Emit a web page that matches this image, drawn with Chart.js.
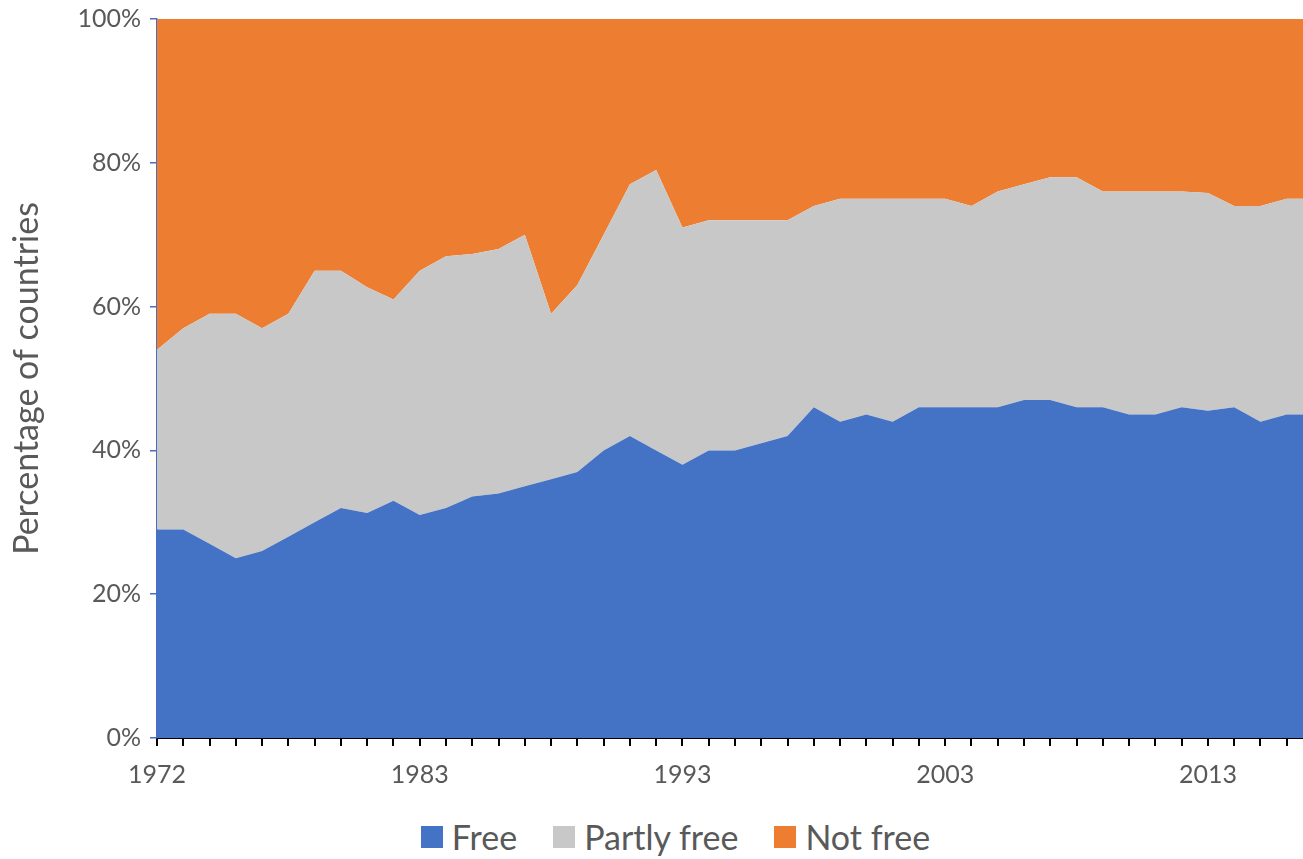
<!DOCTYPE html>
<html>
<head>
<meta charset="utf-8">
<title>Freedom status of countries</title>
<script src="https://cdn.jsdelivr.net/npm/chart.js@4.4.0/dist/chart.umd.min.js"></script>
<style>
  html, body { margin: 0; padding: 0; background: #fff; overflow: hidden; }
  #wrap { position: relative; width: 1303px; height: 859px; }
  #chart { position: absolute; left: 0; top: 0; }
  #legend {
    position: absolute; left: 24px; width: 1303px; top: 816px;
    display: flex; justify-content: center; align-items: center;
    font-family: Lato, sans-serif; font-size: 34px; color: #595959;
  }
  .item { display: flex; align-items: center; margin: 0 18px; }
  .swatch { width: 22px; height: 22px; margin-right: 9px; }
</style>
</head>
<body>
<div id="wrap">
  <canvas id="chart" width="1313" height="800"></canvas>
  <div id="legend"></div>
</div>
<script>
// Years (the survey skips 1982)
const years = [1972, 1973, 1974, 1975, 1976, 1977, 1978, 1979, 1980, 1981,
  1983, 1984, 1985, 1986, 1987, 1988, 1989, 1990, 1991, 1992,
  1993, 1994, 1995, 1996, 1997, 1998, 1999, 2000, 2001, 2002,
  2003, 2004, 2005, 2006, 2007, 2008, 2009, 2010, 2011, 2012,
  2013, 2014, 2015, 2016, 2017];

// Share of countries (%)
const free = [29, 29, 27, 25, 26, 28, 30, 32, 31.3, 33,
  31, 32, 33.6, 34, 35, 36, 37, 40, 42, 40,
  38, 40, 40, 41, 42, 46, 44, 45, 44, 46,
  46, 46, 46, 47, 47, 46, 46, 45, 45, 46,
  45.5, 46, 44, 45, 45];
const partlyFree = [25, 28, 32, 34, 31, 31, 35, 33, 31.4, 28,
  34, 35, 33.7, 34, 35, 23, 26, 30, 35, 39,
  33, 32, 32, 31, 30, 28, 31, 30, 31, 29,
  29, 28, 30, 30, 31, 32, 30, 31, 31, 30,
  30.3, 28, 30, 30, 30];
const notFree = [46, 43, 41, 41, 43, 41, 35, 35, 37.3, 39,
  35, 33, 32.7, 32, 30, 41, 37, 30, 23, 21,
  29, 28, 28, 28, 28, 26, 25, 25, 25, 25,
  25, 26, 24, 23, 22, 22, 24, 24, 24, 24,
  24.2, 26, 26, 25, 25];

// Only these years get a label on the x axis
const labeledYears = [1972, 1983, 1993, 2003, 2013];
const yTicks = [0, 20, 40, 60, 80, 100];

const seriesNames = ['Free', 'Partly free', 'Not free'];
const seriesColors = ['#4472C4', '#C8C8C8', '#ED7D31'];
const seriesData = [free, partlyFree, notFree];

const textColor = '#595959';
const font = 'Lato, sans-serif';

const datasets = seriesData.map((d, i) => ({
  label: seriesNames[i],
  data: d,
  backgroundColor: seriesColors[i],
  borderColor: seriesColors[i],
  borderWidth: 0,
  pointRadius: 0,
  fill: i === 0 ? 'origin' : '-1',
  tension: 0
}));

new Chart(document.getElementById('chart'), {
  type: 'line',
  data: { labels: years, datasets: datasets },
  options: {
    responsive: false,
    animation: false,
    layout: { padding: { top: 19, right: 0, bottom: 0, left: 0 } },
    plugins: { legend: { display: false }, tooltip: { enabled: false } },
    scales: {
      x: {
        offset: false,
        border: { color: '#000', width: 2 },
        grid: { drawOnChartArea: false, color: '#000', lineWidth: 2, tickLength: 8 },
        ticks: {
          autoSkip: false, maxRotation: 0, padding: 14,
          color: textColor, font: { family: font, size: 25 },
          callback: function (v, i) {
            const y = years[i];
            return labeledYears.includes(y) ? String(y) : '';
          }
        },
        afterFit: s => { s.height = 62; s.paddingLeft = 0; s.paddingRight = 0; }
      },
      y: {
        stacked: true,
        min: 0, max: 100,
        afterBuildTicks: s => { s.ticks = yTicks.map(v => ({ value: v })); },
        border: { color: '#4A6FBE', width: 1.5 },
        grid: { drawOnChartArea: false, color: '#4A6FBE', lineWidth: 1.5, tickLength: 7 },
        ticks: {
          padding: 9, color: textColor, font: { family: font, size: 25 },
          callback: v => v + '%'
        },
        title: {
          display: true, text: 'Percentage of countries',
          color: textColor, font: { family: font, size: 34, weight: 'normal' },
          padding: { top: 7, bottom: 0 }
        },
        afterFit: s => { s.width = 157; s.paddingTop = 0; s.paddingBottom = 0; }
      }
    }
  }
});

// Legend drawn as HTML under the chart
const legend = document.getElementById('legend');
seriesNames.forEach((name, i) => {
  const item = document.createElement('div');
  item.className = 'item';
  item.innerHTML = `<span class="swatch" style="background:${seriesColors[i]}"></span><span>${name}</span>`;
  legend.appendChild(item);
});
</script>
</body>
</html>
